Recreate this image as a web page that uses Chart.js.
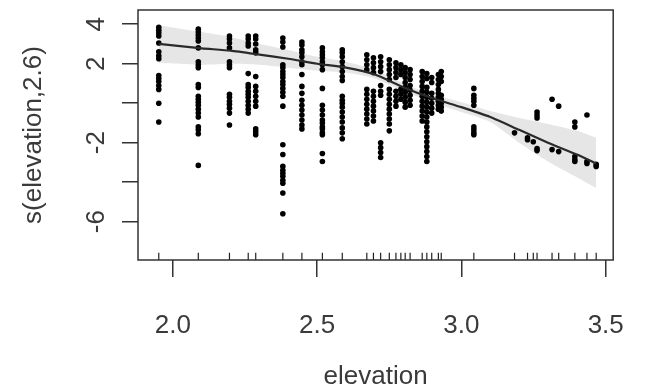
<!DOCTYPE html>
<html>
<head>
<meta charset="utf-8">
<script src="https://cdn.jsdelivr.net/npm/chart.js@4"></script>
<style>
  body { margin: 0; background: #fff; }
  canvas { display: block; }
</style>
</head>
<body>
<canvas id="chart" width="657" height="388"></canvas>
<script>
// Axis ticks
const xTickValues = [2.0, 2.5, 3.0, 3.5];
const yTickValues = [4, 2, 0, -2, -4, -6];
const yTickLabels = ['4', '2', '', '-2', '', '-6'];

// Sites (elevation) and their partial residuals
const siteElevation = [
    1.951, 2.088, 2.196, 2.261, 2.287, 2.381, 2.447, 2.518, 2.587,
    2.672, 2.695, 2.720, 2.750, 2.773, 2.790, 2.805, 2.822, 2.864, 2.880, 2.897, 2.920, 2.930,
    3.043, 3.184, 3.229, 3.249, 3.262, 3.314, 3.337, 3.393, 3.435, 3.467
];
const siteResiduals = [
    [3.85, 3.7, 3.55, 3.4, 3.05, 2.6, 2.4, 2.25, 1.4, 1.25, 1.1, 0.9, 0.7, 0.0, -0.95],
    [3.75, 3.6, 3.45, 3.3, 3.15, 2.8, 2.1, 1.95, 1.8, 0.95, 0.8, 0.35, 0.2, 0.05, -0.1, -0.3, -0.5, -0.7, -1.2, -1.35, -1.55, -3.15],
    [3.4, 3.25, 3.05, 2.8, 2.1, 1.95, 1.8, 0.45, 0.3, 0.1, -0.05, -0.25, -0.5, -1.1],
    [3.4, 3.25, 3.05, 2.9, 1.5, 0.95, 0.8, 0.6, 0.45, 0.3, 0.1, -0.1, -0.3, -0.5],
    [3.4, 3.25, 3.0, 2.7, 2.55, 1.35, 0.85, 0.6, 0.35, 0.1, -0.15, -1.3, -1.45, -1.6],
    [3.3, 3.1, 2.85, 1.95, 1.8, 1.6, 1.45, 1.3, 1.1, 0.95, 0.75, 0.55, 0.35, -0.15, -2.1, -2.6, -3.2, -3.4, -3.55, -3.7, -3.9, -4.05, -4.55, -5.6],
    [3.1, 2.95, 2.7, 2.55, 2.35, 2.1, 1.95, 1.45, 0.85, 0.5, 0.15, -0.1, -0.35, -0.6, -0.85, -1.1, -1.3],
    [2.8, 2.6, 2.45, 2.3, 2.1, 1.95, 1.7, 0.75, -0.1, -0.35, -0.6, -0.85, -1.0, -1.2, -1.3, -1.5, -1.6, -2.55, -2.95],
    [2.7, 2.55, 2.35, 2.1, 1.85, 1.6, 1.35, 1.15, 0.35, 0.15, 0.0, -0.2, -0.45, -0.7, -0.95, -1.25, -1.5, -1.8],
    [2.45, 2.2, 1.95, 1.7, 0.7, 0.45, 0.2, -0.05, -0.3, -0.55, -0.8, -1.05],
    [2.3, 2.05, 1.8, 1.55, 0.6, 0.35, 0.1, -0.15, -0.4, -0.65, -0.9],
    [2.35, 2.1, 1.85, 1.6, 0.9, 0.6, 0.4, -2.0, -2.25, -2.5, -2.75],
    [2.2, 1.95, 1.7, 1.45, 1.2, 0.7, 0.45, 0.2, -0.05, -0.3, -0.55, -0.8, -1.05, -1.4],
    [2.05, 1.8, 1.55, 1.3, 0.6, 0.35, 0.1, -0.15],
    [1.95, 1.7, 1.45, 0.7, 0.45, 0.2],
    [1.8, 1.55, 1.3, 1.05, 0.8, 0.55, 0.3, 0.05, -0.2],
    [1.7, 1.45, 1.2, 0.9, 0.65, 0.4, 0.15, -0.1],
    [1.6, 1.35, 1.1, 0.85, 0.6, 0.35, 0.1, -0.15, -0.4, -0.65, -0.9],
    [1.5, 1.25, 0.8, 0.55, 0.3, 0.05, -0.2, -0.45, -0.7, -0.95, -1.2, -1.45, -1.7, -1.95, -2.2, -2.45, -2.7, -2.95],
    [1.3, 1.05, 0.5, 0.25, 0.0, -0.25, -0.5],
    [1.45, 1.2, 0.95, 0.7, 0.5, 0.3, 0.1, -0.1, -0.3],
    [1.6, 1.35, 1.1, 0.4, 0.2, 0.0, -0.2, -0.4],
    [0.75, 0.4, 0.25, 0.1, -0.1, -1.2, -1.35, -1.5, -1.6],
    [-1.5],
    [-1.75, -1.85],
    [-1.95],
    [-0.45, -0.6, -0.75, -2.3, -2.4],
    [0.2, -2.35],
    [-0.15, -2.45],
    [-0.95, -1.2, -2.7, -2.85, -2.95],
    [-0.6, -2.95, -3.05],
    [-3.1, -3.2]
];

// Smooth fit and its confidence band
const fitElevation = [1.951, 2.1, 2.2, 2.3, 2.4, 2.5, 2.6, 2.7, 2.8, 2.9, 3.0, 3.1, 3.2, 3.3, 3.4, 3.467];
const fitValue     = [3.0, 2.78, 2.66, 2.46, 2.25, 2.0, 1.8, 1.45, 0.8, 0.25, -0.2, -0.7, -1.35, -2.0, -2.6, -3.05];
const bandUpper    = [3.95, 3.6, 3.35, 3.0, 2.7, 2.35, 2.1, 1.7, 1.0, 0.45, 0.05, -0.4, -0.75, -1.05, -1.4, -1.75];
const bandLower    = [2.05, 1.95, 2.0, 1.95, 1.8, 1.65, 1.55, 1.25, 0.6, 0.05, -0.45, -0.95, -2.0, -2.95, -3.75, -4.3];

const rugLevel = -7.77;

const points = [];
siteElevation.forEach((x, i) => {
    siteResiduals[i].forEach(y => points.push({ x: x, y: y }));
});
const rug = siteElevation.map(x => ({ x: x, y: rugLevel }));
const toXY = (xs, ys) => xs.map((x, i) => ({ x: x, y: ys[i] }));

const FONT = "'Liberation Sans', Arial, sans-serif";
const TEXT = '#3a3a3a';

// Box around plot + rotated y tick labels (R style, las = 0)
const rFrame = {
    id: 'rFrame',
    afterDraw(chart) {
        const ctx = chart.ctx;
        const a = chart.chartArea;
        ctx.save();
        ctx.strokeStyle = '#333';
        ctx.lineWidth = 1.5;
        ctx.strokeRect(a.left, a.top, a.right - a.left, a.bottom - a.top);

        const ys = chart.scales.y;
        ctx.fillStyle = TEXT;
        ctx.font = '26px ' + FONT;
        ctx.textAlign = 'center';
        ctx.textBaseline = 'middle';
        yTickValues.forEach((v, i) => {
            if (!yTickLabels[i]) return;
            ctx.save();
            ctx.translate(97, ys.getPixelForValue(v));
            ctx.rotate(-Math.PI / 2);
            ctx.fillText(yTickLabels[i], 0, 0);
            ctx.restore();
        });
        ctx.restore();
    }
};

new Chart(document.getElementById('chart'), {
    type: 'scatter',
    data: {
        datasets: [
            {
                // fit line
                type: 'line',
                data: toXY(fitElevation, fitValue),
                borderColor: '#2a2a2a',
                borderWidth: 2.2,
                pointRadius: 0,
                tension: 0.2,
                fill: false,
                order: 0,
            },
            {
                data: points,
                backgroundColor: '#000',
                borderWidth: 0,
                pointRadius: 2.8,
                order: 1,
            },
            {
                // rug
                data: rug,
                pointStyle: 'line',
                rotation: 90,
                pointRadius: 4,
                borderColor: '#222',
                borderWidth: 1.2,
                order: 2,
            },
            {
                type: 'line',
                data: toXY(fitElevation, bandUpper),
                borderWidth: 0,
                pointRadius: 0,
                tension: 0.2,
                backgroundColor: '#e6e6e6',
                fill: '+1',
                order: 3,
            },
            {
                type: 'line',
                data: toXY(fitElevation, bandLower),
                borderWidth: 0,
                pointRadius: 0,
                tension: 0.2,
                fill: false,
                order: 4,
            },
        ],
    },
    options: {
        responsive: false,
        animation: false,
        devicePixelRatio: 1,
        layout: { padding: { left: 0, right: 14, top: 10, bottom: 0 } },
        plugins: {
            legend: { display: false },
            tooltip: { enabled: false },
        },
        scales: {
            x: {
                type: 'linear',
                min: 1.879,
                max: 3.526,
                afterBuildTicks: s => { s.ticks = xTickValues.map(v => ({ value: v })); },
                afterFit: s => { s.height = 128; },
                border: { display: false },
                grid: { drawOnChartArea: false, drawTicks: true, tickLength: 17, color: '#333', lineWidth: 1.5 },
                ticks: {
                    padding: 33,
                    color: TEXT,
                    font: { family: FONT, size: 26 },
                    maxRotation: 0,
                    callback: v => v.toFixed(1),
                },
                title: {
                    display: true,
                    text: 'elevation',
                    color: TEXT,
                    font: { family: FONT, size: 26 },
                    padding: { top: 0, bottom: -4 },
                },
            },
            y: {
                min: -7.94,
                max: 4.72,
                afterBuildTicks: s => { s.ticks = yTickValues.map(v => ({ value: v })); },
                afterFit: s => { s.width = 138; },
                border: { display: false },
                grid: { drawOnChartArea: false, drawTicks: true, tickLength: 16, color: '#333', lineWidth: 1.5 },
                ticks: { display: false },
                title: {
                    display: true,
                    text: 's(elevation,2.6)',
                    color: TEXT,
                    font: { family: FONT, size: 26 },
                    padding: { top: 18, bottom: 0 },
                },
            },
        },
    },
    plugins: [rFrame],
});
</script>
</body>
</html>
